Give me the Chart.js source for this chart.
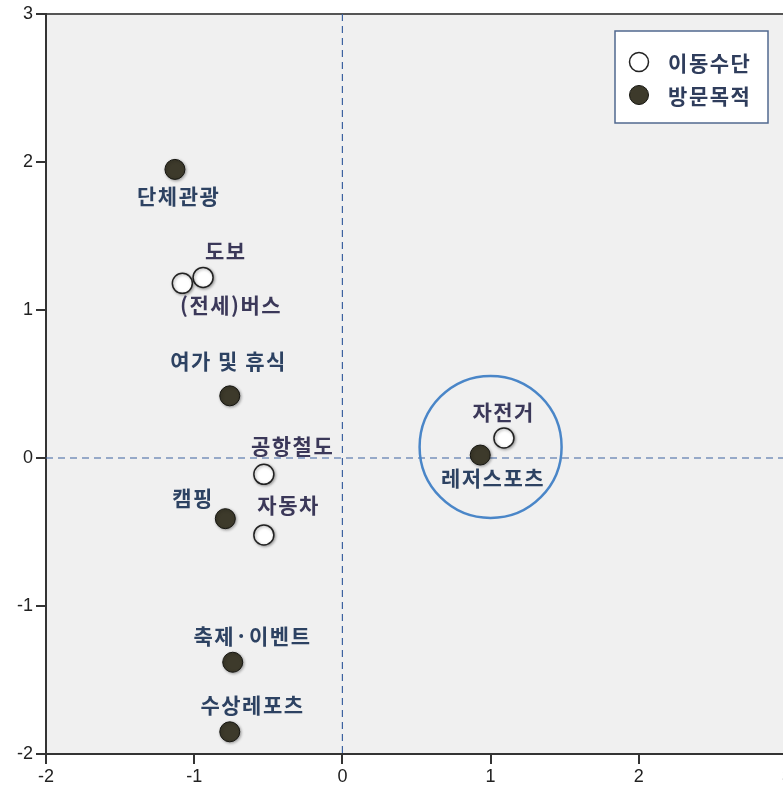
<!DOCTYPE html>
<html>
<head>
<meta charset="utf-8">
<script src="https://cdn.jsdelivr.net/npm/chart.js@4.4.1/dist/chart.umd.min.js"></script>
<style>
  html, body { margin: 0; padding: 0; background: #fff; overflow: hidden; }
  #wrap { width: 800px; height: 792px; }
</style>
</head>
<body>
<div id="wrap"><canvas id="chart" width="800" height="792"></canvas></div>
<script>
// 이동수단 (transport mode)
const modeLabels = ['도보', '(전세)버스', '공항철도', '자동차', '자전거'];
const modeX = [-0.94, -1.08, -0.53, -0.53, 1.09];
const modeY = [1.22, 1.18, -0.11, -0.52, 0.135];

// 방문목적 (visit purpose)
const purposeLabels = ['단체관광', '여가 및 휴식', '캠핑', '레저스포츠', '축제·이벤트', '수상레포츠'];
const purposeX = [-1.13, -0.76, -0.79, 0.93, -0.74, -0.76];
const purposeY = [1.95, 0.42, -0.41, 0.02, -1.38, -1.85];

const seriesNames = ['이동수단', '방문목적'];
const xTicks = [-2, -1, 0, 1, 2, 3];
const yTicks = [-2, -1, 0, 1, 2, 3];

// label placement relative to each point (pixels)
const modeOffsets = [[22, -26], [48, 22], [28, -28], [24, -30], [-1, -26]];
const purposeOffsets = [[3, 27], [-2, -35], [-33, -21], [12, 23], [19, -26], [22, -27]];

const toPoints = (xs, ys) => xs.map((x, i) => ({ x: x, y: ys[i] }));

const LABEL_FONT = 'bold 21px "Noto Sans CJK KR"';

function spacedText(ctx, text, cx, cy, spacing) {
  // centred text with extra letter spacing
  const chars = Array.from(text);
  const widths = chars.map(c => ctx.measureText(c).width);
  const total = widths.reduce((a, b) => a + b, 0) + spacing * (chars.length - 1);
  let x = cx - total / 2;
  ctx.textAlign = 'left';
  chars.forEach((c, i) => {
    ctx.fillText(c, x, cy);
    x += widths[i] + spacing;
  });
}

const plotStyle = {
  id: 'plotStyle',
  beforeDraw(chart) {
    const { ctx, chartArea: a } = chart;
    ctx.save();
    ctx.fillStyle = '#f0f0f0';
    ctx.fillRect(a.left, a.top, a.right - a.left, a.bottom - a.top);
    ctx.strokeStyle = '#555';
    ctx.lineWidth = 2;
    ctx.beginPath();
    ctx.moveTo(a.left, a.top);
    ctx.lineTo(a.right, a.top);
    ctx.stroke();
    ctx.restore();
  },
  beforeDatasetsDraw(chart) {
    const { ctx, chartArea: a, scales: { x, y } } = chart;
    ctx.save();
    ctx.strokeStyle = '#3d62a0';
    ctx.lineWidth = 1.2;
    ctx.setLineDash([7, 5]);
    ctx.beginPath();
    ctx.moveTo(x.getPixelForValue(0), a.top);
    ctx.lineTo(x.getPixelForValue(0), a.bottom);
    ctx.moveTo(a.left, y.getPixelForValue(0));
    ctx.lineTo(a.right, y.getPixelForValue(0));
    ctx.stroke();
    ctx.setLineDash([]);
    // highlight ring around 자전거 / 레저스포츠
    ctx.strokeStyle = '#4a86c8';
    ctx.lineWidth = 2.5;
    ctx.beginPath();
    ctx.arc(x.getPixelForValue(1.0), y.getPixelForValue(0.075), 71, 0, Math.PI * 2);
    ctx.stroke();
    ctx.restore();
  },
  beforeDatasetDraw(chart) {
    const ctx = chart.ctx;
    ctx.shadowColor = 'rgba(0,0,0,0.35)';
    ctx.shadowBlur = 3;
    ctx.shadowOffsetX = 1;
    ctx.shadowOffsetY = 1;
  },
  afterDatasetDraw(chart) {
    const ctx = chart.ctx;
    ctx.shadowColor = 'transparent';
    ctx.shadowBlur = 0;
    ctx.shadowOffsetX = 0;
    ctx.shadowOffsetY = 0;
  },
  afterDatasetsDraw(chart) {
    const ctx = chart.ctx;
    const sets = [
      { labels: modeLabels, offs: modeOffsets, color: '#3b3859' },
      { labels: purposeLabels, offs: purposeOffsets, color: '#2d4262' }
    ];
    ctx.save();
    ctx.font = LABEL_FONT;
    ctx.textBaseline = 'middle';
    sets.forEach((s, di) => {
      ctx.fillStyle = s.color;
      chart.getDatasetMeta(di).data.forEach((el, i) => {
        spacedText(ctx, s.labels[i], el.x + s.offs[i][0], el.y + s.offs[i][1], 1.5);
      });
    });
    ctx.restore();
  },
  afterDraw(chart) {
    // legend box in the upper right
    const { ctx, chartArea: a } = chart;
    const left = a.right - 172, top = a.top + 17, w = 153, h = 92;
    ctx.save();
    ctx.fillStyle = '#fff';
    ctx.fillRect(left, top, w, h);
    ctx.strokeStyle = '#50688f';
    ctx.lineWidth = 1.5;
    ctx.strokeRect(left, top, w, h);
    ctx.font = LABEL_FONT;
    ctx.textBaseline = 'middle';
    chart.data.datasets.forEach((ds, i) => {
      const cy = top + 31 + i * 33;
      ctx.beginPath();
      ctx.arc(left + 24, cy, 9.5, 0, Math.PI * 2);
      ctx.fillStyle = ds.backgroundColor;
      ctx.fill();
      ctx.lineWidth = ds.borderWidth;
      ctx.strokeStyle = ds.borderColor;
      ctx.stroke();
      ctx.fillStyle = '#2f3d5c';
      spacedText(ctx, ds.label, left + 94, cy + 1, 1.5);
    });
    ctx.restore();
  }
};

new Chart(document.getElementById('chart'), {
  type: 'scatter',
  data: {
    datasets: [
      {
        label: seriesNames[0],
        data: toPoints(modeX, modeY),
        backgroundColor: '#ffffff',
        borderColor: '#222222',
        borderWidth: 1.5,
        pointRadius: 10
      },
      {
        label: seriesNames[1],
        data: toPoints(purposeX, purposeY),
        backgroundColor: '#3d3a2b',
        borderColor: '#151510',
        borderWidth: 1,
        pointRadius: 10
      }
    ]
  },
  options: {
    responsive: false,
    animation: false,
    layout: { padding: { top: 14, right: 13, left: 0, bottom: 0 } },
    plugins: { legend: { display: false }, tooltip: { enabled: false } },
    scales: {
      x: {
        type: 'linear',
        min: -2, max: 3,
        afterFit: s => { s.height = 38; },
        afterBuildTicks: s => { s.ticks = xTicks.map(v => ({ value: v })); },
        grid: { drawOnChartArea: false, drawTicks: true, tickLength: 10, color: '#333', lineWidth: 2 },
        border: { display: true, color: '#333', width: 2 },
        ticks: { color: '#222', padding: 2, font: { family: 'Liberation Sans', size: 18 } }
      },
      y: {
        type: 'linear',
        min: -2, max: 3,
        afterFit: s => { s.width = 46; },
        afterBuildTicks: s => { s.ticks = yTicks.map(v => ({ value: v })); },
        grid: { drawOnChartArea: false, drawTicks: true, tickLength: 10, color: '#333', lineWidth: 2 },
        border: { display: true, color: '#333', width: 2 },
        ticks: { color: '#222', padding: 3, font: { family: 'Liberation Sans', size: 18 } }
      }
    }
  },
  plugins: [plotStyle]
});
</script>
</body>
</html>
